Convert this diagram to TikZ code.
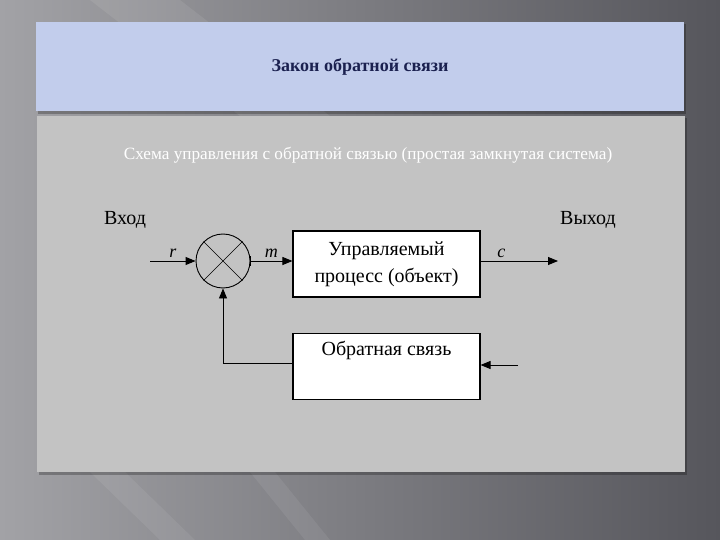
\documentclass[tikz,border=0pt]{standalone}
\usepackage{fontspec}
\setmainfont{LiberationSerif}[Extension=.ttf, UprightFont=*-Regular, BoldFont=*-Bold, ItalicFont=*-Italic, BoldItalicFont=*-BoldItalic]
\usetikzlibrary{positioning, arrows.meta}

\definecolor{titleblue}{HTML}{C2CDEC}
\definecolor{panelgray}{HTML}{C3C3C3}
\definecolor{titleink}{HTML}{1B2150}
\definecolor{bgleft}{HTML}{A2A2A6}
\definecolor{bgright}{HTML}{56565C}

\begin{document}
\begin{tikzpicture}[
    x=1pt, y=-1pt,
    block/.style={rectangle, draw, line width=1.1pt, fill=white, minimum width=187pt, minimum height=66pt, align=center, font=\fontsize{20}{27}\selectfont},
    summer/.style={circle, draw, line width=0.9pt, minimum size=54pt, inner sep=0pt},
    signal/.style={line width=0.9pt, -{Triangle[length=10pt, width=8pt]}},
    caption/.style={font=\fontsize{20}{22}\selectfont},
    sig/.style={font=\fontsize{18}{20}\selectfont\itshape}
]
\useasboundingbox (0,0) rectangle (720,540);

% Background and panels
\shade[left color=bgleft, right color=bgright] (0,0) rectangle (720,540);
\fill[white, opacity=0.08] (90,0) -- (180,0) -- (330,116) -- (240,116) -- cycle;
\fill[white, opacity=0.07] (90,472) -- (125,472) -- (195,540) -- (160,540) -- cycle;
\fill[white, opacity=0.07] (250,472) -- (275,472) -- (330,540) -- (305,540) -- cycle;
\fill[black, opacity=0.25] (38,24) rectangle (686,114);
\fill[titleblue] (36,22) rectangle (684,111);
\fill[black, opacity=0.25] (39,118) rectangle (687,475);
\fill[panelgray] (37,116) rectangle (685,472);

% Titles
\node[font=\bfseries\fontsize{18}{20}\selectfont, text=titleink] (title) at (360,67) {Закон обратной связи};
\node[font=\fontsize{17.2}{19}\selectfont, text=white] (subtitle) at (368,155) {Схема управления с обратной связью (простая замкнутая система)};

% Blocks
\node[summer] (sum) at (223,261) {};
\draw[line width=0.6pt] (sum.north west) -- (sum.south east);
\draw[line width=0.6pt] (sum.north east) -- (sum.south west);
\node[block, right=42pt of sum, yshift=-3pt] (plant) {Управляемый\\процесс (объект)};
\node[block, below=35pt of plant] (fb) {Обратная связь\\\strut};

\node[caption] (input) at (125,220) {Вход};
\node[caption] (output) at (588,220) {Выход};

% Connectors
\coordinate (in) at (150,261);
\coordinate (out) at (558,261);
\coordinate (fbin) at (518,365);
\draw[signal] (in) -- node[sig, above] {r} (sum.west);
\draw[signal] (sum.east) -- node[sig, above] {m} (sum.east -| plant.west);
\draw[line width=0.9pt] ([yshift=5pt]sum.east) -- ([yshift=-5pt]sum.east);
\draw[signal] (plant.east |- out) -- node[sig, above, pos=0.27] {c} (out);
\draw[signal] (fbin) -- (fb.east |- fbin);
\draw[signal] ([yshift=3pt]fb.west) -| (sum.south);

\end{tikzpicture}
\end{document}
